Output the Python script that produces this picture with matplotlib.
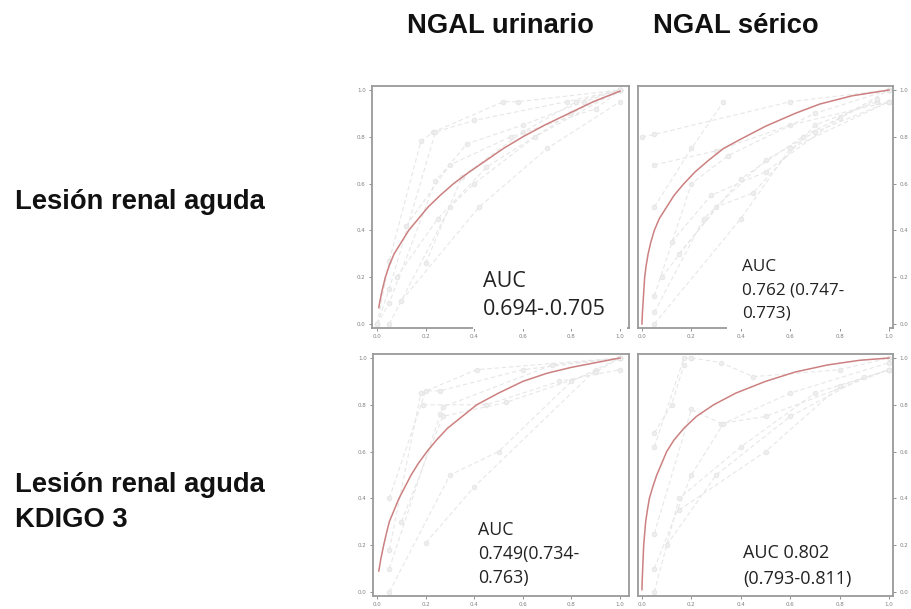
import matplotlib
matplotlib.use("Agg")
import matplotlib.pyplot as plt
from matplotlib.patches import Rectangle

# ---------------- data ----------------
col_titles = ["NGAL urinario", "NGAL sérico"]
row_titles = [["Lesión renal aguda"], ["Lesión renal aguda", "KDIGO 3"]]
tick_vals = [0.0, 0.2, 0.4, 0.6, 0.8, 1.0]
tick_labels = ["0.0", "0.2", "0.4", "0.6", "0.8", "1.0"]

auc_lines = [
    ["AUC", "0.694-.0.705"],
    ["AUC", "0.762 (0.747-", "0.773)"],
    ["AUC", "0.749(0.734-", "0.763)"],
    ["AUC 0.802", "(0.793-0.811)"],
]

# summary ROC curves (FPR, TPR)
sroc_ul_x = [0.007, 0.012, 0.02, 0.034, 0.05, 0.07, 0.1, 0.13, 0.17, 0.21, 0.26,
             0.315, 0.38, 0.45, 0.52, 0.6, 0.69, 0.79, 0.89, 1.0]
sroc_ul_y = [0.07, 0.1, 0.14, 0.2, 0.25, 0.3, 0.35, 0.4, 0.45, 0.5, 0.55,
             0.6, 0.65, 0.7, 0.75, 0.8, 0.85, 0.9, 0.95, 0.995]
sroc_ur_x = [0.0, 0.002, 0.005, 0.008, 0.011, 0.017, 0.025, 0.036, 0.05, 0.07, 0.1,
             0.13, 0.17, 0.215, 0.27, 0.33, 0.4, 0.5, 0.62, 0.72, 0.85, 1.0]
sroc_ur_y = [0.0, 0.05, 0.1, 0.15, 0.2, 0.25, 0.3, 0.35, 0.4, 0.45, 0.5,
             0.55, 0.6, 0.65, 0.7, 0.75, 0.79, 0.845, 0.9, 0.94, 0.975, 1.0]
sroc_ll_x = [0.007, 0.015, 0.027, 0.038, 0.05, 0.07, 0.09, 0.115, 0.14, 0.17, 0.205,
             0.245, 0.29, 0.35, 0.41, 0.5, 0.6, 0.7, 0.8, 0.9, 1.0]
sroc_ll_y = [0.09, 0.14, 0.2, 0.25, 0.3, 0.35, 0.4, 0.45, 0.5, 0.55, 0.6,
             0.65, 0.7, 0.75, 0.8, 0.85, 0.9, 0.935, 0.96, 0.98, 1.0]
sroc_lr_x = [0.0, 0.001, 0.003, 0.005, 0.007, 0.011, 0.015, 0.022, 0.03, 0.044, 0.06,
             0.08, 0.1, 0.13, 0.17, 0.22, 0.29, 0.38, 0.5, 0.62, 0.75, 0.88, 1.0]
sroc_lr_y = [0.01, 0.05, 0.1, 0.15, 0.2, 0.25, 0.3, 0.35, 0.4, 0.45, 0.5,
             0.55, 0.6, 0.65, 0.7, 0.75, 0.8, 0.85, 0.9, 0.94, 0.97, 0.99, 1.0]

# individual study ROC lines (FPR list, TPR list)
studies_ul = [
    ([0, 0.05, 0.18, 0.23, 0.52, 0.58, 1], [0, 0.27, 0.78, 0.82, 0.95, 0.95, 1]),
    ([0, 0.05, 0.24, 0.4, 0.78, 1], [0, 0.15, 0.82, 0.87, 0.95, 1]),
    ([0, 0.05, 0.24, 0.37, 0.6, 0.85, 1], [0, 0.09, 0.61, 0.77, 0.85, 0.95, 1]),
    ([0.05, 0.3, 0.4, 0.65, 1], [0.0, 0.5, 0.6, 0.8, 1]),
    ([0.1, 0.42, 0.7, 1], [0.1, 0.5, 0.75, 0.95]),
    ([0.2, 0.35, 0.6, 0.82, 1], [0.26, 0.63, 0.82, 0.95, 1]),
    ([0.12, 0.3, 0.55, 0.9, 1], [0.42, 0.68, 0.8, 0.92, 1]),
    ([0.08, 0.25, 0.45, 0.8, 1], [0.2, 0.45, 0.67, 0.9, 1]),
]
studies_ur = [
    ([0.0, 0.05, 0.6, 1], [0.8, 0.81, 0.95, 1]),
    ([0.05, 0.2, 0.33], [0.5, 0.75, 0.95]),
    ([0.05, 0.3, 0.6, 1], [0.68, 0.74, 0.85, 0.95]),
    ([0.05, 0.2, 0.35, 0.7, 1], [0.12, 0.6, 0.72, 0.9, 1]),
    ([0.05, 0.25, 0.5, 0.7, 1], [0.05, 0.45, 0.7, 0.82, 0.95]),
    ([0.08, 0.3, 0.45, 0.7, 0.95], [0.2, 0.5, 0.56, 0.85, 0.95]),
    ([0.05, 0.4, 0.6, 1], [0.0, 0.45, 0.75, 0.95]),
    ([0.12, 0.28, 0.5, 0.8, 1], [0.35, 0.55, 0.65, 0.88, 1]),
    ([0.15, 0.4, 0.65, 0.95], [0.3, 0.62, 0.8, 0.96]),
]
studies_ll = [
    ([0.05, 0.2, 0.26, 0.6, 1], [0.4, 0.86, 0.86, 0.95, 1]),
    ([0.05, 0.18, 0.41, 1], [0.18, 0.85, 0.95, 1]),
    ([0.05, 0.26, 0.27, 0.72, 1], [0.1, 0.76, 0.79, 0.97, 1]),
    ([0.05, 0.3, 0.5, 0.8, 1], [0.0, 0.5, 0.6, 0.9, 1]),
    ([0.2, 0.4, 0.9], [0.21, 0.45, 0.95]),
    ([0.1, 0.27, 0.53, 0.9, 1], [0.3, 0.75, 0.81, 0.94, 1]),
    ([0.19, 0.45, 0.75, 1], [0.8, 0.8, 0.9, 0.95]),
]
studies_lr = [
    ([0.05, 0.17, 0.2], [0.62, 1.0, 1.0]),
    ([0.05, 0.12, 0.17], [0.68, 0.8, 0.97]),
    ([0.05, 0.2, 0.32, 0.5, 1], [0.25, 0.78, 0.72, 0.75, 0.95]),
    ([0.05, 0.2, 0.33, 0.6, 1], [0.1, 0.5, 0.72, 0.85, 0.98]),
    ([0.05, 0.15, 0.4, 0.7, 1], [0.0, 0.4, 0.62, 0.85, 0.95]),
    ([0.1, 0.3, 0.6, 0.9], [0.2, 0.5, 0.75, 0.92]),
    ([0.15, 0.5, 0.8, 1], [0.35, 0.6, 0.88, 0.95]),
    ([0.2, 0.32, 0.45, 0.8, 1], [1.0, 0.98, 0.92, 0.95, 1]),
]

panels = [
    dict(sx=sroc_ul_x, sy=sroc_ul_y, studies=studies_ul, lines=auc_lines[0]),
    dict(sx=sroc_ur_x, sy=sroc_ur_y, studies=studies_ur, lines=auc_lines[1]),
    dict(sx=sroc_ll_x, sy=sroc_ll_y, studies=studies_ll, lines=auc_lines[2]),
    dict(sx=sroc_lr_x, sy=sroc_lr_y, studies=studies_lr, lines=auc_lines[3]),
]

# ---------------- layout / style ----------------
W, H = 911, 609
fig = plt.figure(figsize=(W / 100, H / 100), dpi=100)

def fx(px):
    return px / W

def fy(py):
    return 1 - py / H

# (left px, right px, top px, bottom px, xlim, ylim, ticks side)
boxes = [
    (372, 629, 86, 328, (-0.021, 1.037), (-0.017, 1.017), "left"),
    (638, 893, 86, 328, (-0.016, 1.016), (-0.017, 1.017), "right"),
    (373, 629, 354, 596, (-0.017, 1.037), (-0.017, 1.017), "left"),
    (638, 893, 354, 596, (-0.016, 1.016), (-0.017, 1.017), "right"),
]
# text placement in pixels: left x, baselines, font size
text_px = [
    (483, [287, 315], 15.5),
    (742, [271, 294, 317], 12.3),
    (478, [535, 559, 583], 12.8),
    (743, [558, 584], 13.0),
]
# white text boxes in pixels: x0, x1, y_top, y_bottom
wbox_px = [
    (473, 627, 262, 329.5),
    (727, 889, 252, 329.5),
    (470, 622, 512, 592),
    (735, 886, 536, 592),
]

spine_col = "#9a9a9a"
for i, (p, b) in enumerate(zip(panels, boxes)):
    l, r, t, bt, xl, yl, side = b
    ax = fig.add_axes([fx(l), fy(bt), fx(r - l), (bt - t) / H])
    ax.set_xlim(*xl)
    ax.set_ylim(*yl)
    for s in ax.spines.values():
        s.set_color(spine_col)
        s.set_linewidth(1.3)
    ax.set_xticks(tick_vals)
    ax.set_xticklabels(tick_labels)
    ax.set_yticks(tick_vals)
    ax.set_yticklabels(tick_labels)
    ax.tick_params(labelsize=4, colors="#808080", length=2.5, width=0.6, pad=2)
    if side == "right":
        ax.yaxis.tick_right()
    for sx, sy in p["studies"]:
        ax.plot(sx, sy, linestyle=(0, (4, 2.5)), color="#e7e7e7", lw=0.8,
                marker="o", ms=3.4, mfc="#eeeeee", mec="#e3e3e3", mew=0.5, zorder=2)
    ax.plot(p["sx"], p["sy"], color="#cc8080", lw=1.1, zorder=3)
    x0, x1, yt, yb = wbox_px[i]
    ax.add_patch(Rectangle((fx(x0), fy(yb)), fx(x1 - x0), (yb - yt) / H,
                           transform=fig.transFigure, facecolor="white",
                           edgecolor="none", zorder=9, clip_on=False))
    tx, bls, fs = text_px[i]
    for line, bl in zip(p["lines"], bls):
        fig.text(fx(tx), fy(bl), line, fontsize=fs,
                 family=["Open Sans", "DejaVu Sans"], color="#222222",
                 va="baseline", ha="left", zorder=10)

title_font = dict(family=["Liberation Sans", "DejaVu Sans"], weight="bold",
                  fontsize=19.7, color="#111111")
fig.text(fx(407), fy(33), col_titles[0], ha="left", va="baseline", **title_font)
fig.text(fx(653), fy(33), col_titles[1], ha="left", va="baseline", **title_font)
fig.text(fx(15), fy(209), row_titles[0][0], ha="left", va="baseline", **title_font)
fig.text(fx(15), fy(492), row_titles[1][0], ha="left", va="baseline", **title_font)
fig.text(fx(15), fy(527), row_titles[1][1], ha="left", va="baseline", **title_font)

fig.savefig("out.png", dpi=100, facecolor="white")
